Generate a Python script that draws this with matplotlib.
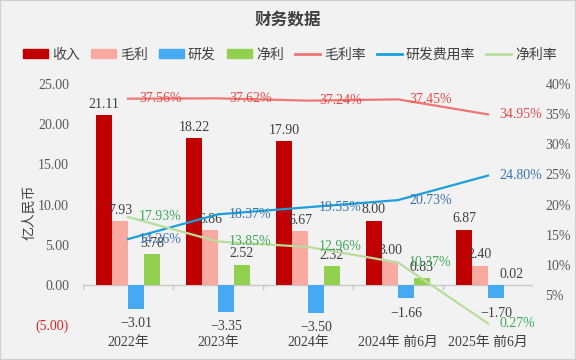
import matplotlib.pyplot as plt
import numpy as np
from matplotlib.patches import Rectangle
from matplotlib.lines import Line2D
from matplotlib.patches import Patch

plt.rcParams['font.family'] = ['Liberation Serif', 'Noto Sans CJK SC']

categories = ['2022年', '2023年', '2024年', '2024年 前6月', '2025年 前6月']
revenue = [21.11, 18.22, 17.90, 8.00, 6.87]
gross_profit = [7.93, 6.86, 6.67, 3.00, 2.40]
rnd = [-3.01, -3.35, -3.50, -1.66, -1.70]
net_profit = [3.78, 2.52, 2.32, 0.83, 0.02]
gross_margin = [37.56, 37.62, 37.24, 37.45, 34.95]
rnd_rate = [14.26, 18.37, 19.55, 20.73, 24.80]
net_margin = [17.93, 13.85, 12.96, 10.37, 0.27]

bg = '#f2f2f2'
c_rev, c_gp, c_rnd, c_np = '#c00000', '#f8a9a0', '#45aaf2', '#92d050'
c_gm, c_rr, c_nm = '#f07575', '#1aa0dc', '#b8dd9c'

fig = plt.figure(figsize=(5.76, 3.6), dpi=100, facecolor=bg)
ax = fig.add_axes([83/576, 1-325/360, 450/576, 241/360])
ax.set_facecolor(bg)
ax2 = ax.twinx()

x = np.arange(len(categories))
w = 16/90
series = [(revenue, c_rev), (gross_profit, c_gp), (rnd, c_rnd), (net_profit, c_np)]
for i, (vals, col) in enumerate(series):
    pos = x + (i - 1.5) * w
    ax.bar(pos, vals, width=w, color=col, zorder=2)
    for p, v in zip(pos, vals):
        if v >= 0:
            ax.annotate(f'{v:.2f}', (p, v), xytext=(0, 3), textcoords='offset points',
                        ha='center', va='bottom', fontsize=10, color='#404040', zorder=5)
        else:
            ax.annotate(f'\u2212{abs(v):.2f}', (p, v), xytext=(0, -6), textcoords='offset points',
                        ha='center', va='top', fontsize=10, color='#404040', zorder=5)

ax.set_xlim(-0.5, 4.5)
ax.set_ylim(-5, 25)
ax.set_yticks([-5, 0, 5, 10, 15, 20, 25])
ax.set_yticklabels(['(5.00)', '0.00', '5.00', '10.00', '15.00', '20.00', '25.00'])
ax.get_yticklabels()[0].set_color('#e02020')
ax.tick_params(axis='y', length=0, pad=10, labelsize=10, labelcolor='#595959')
ax.get_yticklabels()[0].set_color('#e02020')
ax.set_xticks(x)
ax.set_xticklabels(categories)
ax.tick_params(axis='x', length=0, pad=8, labelsize=10, labelcolor='#404040')
for s in ax.spines.values():
    s.set_visible(False)
ax.axhline(0, color='#c8c8c8', lw=1, zorder=1)
for b in np.arange(-0.5, 5, 1):
    ax.plot([b, b], [0, -0.55], color='#c8c8c8', lw=1, zorder=1)

lines = [(gross_margin, c_gm, '#e84848'), (rnd_rate, c_rr, '#3a74b0'), (net_margin, c_nm, '#3fa85a')]
for vals, col, tcol in lines:
    ax2.plot(x, np.array(vals)/100, color=col, lw=1.6, zorder=3)
    for xi, v in zip(x, vals):
        ax2.annotate(f'{v:.2f}%', (xi, v/100), xytext=(8, 0), textcoords='offset points',
                     ha='left', va='center', fontsize=10, color=tcol, zorder=6)
ax2.set_ylim(0, 0.40)
ax2.set_yticks(np.arange(0.05, 0.41, 0.05))
ax2.set_yticklabels([f'{int(round(t*100))}%' for t in np.arange(0.05, 0.41, 0.05)])
ax2.tick_params(axis='y', length=0, pad=9, labelsize=10, labelcolor='#595959')
for s in ax2.spines.values():
    s.set_visible(False)

fig.text(0.5, 1-20/360, '财务数据', ha='center', va='center', fontsize=12,
         fontweight='bold', color='#404040')
fig.text(30/576, 1-212/360, '亿人民币', rotation=90, ha='center', va='center',
         fontsize=10, color='#404040')

handles = [Patch(color=c_rev), Patch(color=c_gp), Patch(color=c_rnd), Patch(color=c_np),
           Line2D([], [], color=c_gm, lw=2), Line2D([], [], color=c_rr, lw=2),
           Line2D([], [], color=c_nm, lw=2)]
labels = ['收入', '毛利', '研发', '净利', '毛利率', '研发费用率', '净利率']
fig.legend(handles, labels, loc='center', bbox_to_anchor=(290/576, 1-55/360), ncol=7,
           frameon=False, fontsize=10, handlelength=1.8, handleheight=0.6,
           columnspacing=0.8, handletextpad=0.3, labelcolor='#404040')

fig.patches.append(Rectangle((0, 0), 1, 1, transform=fig.transFigure, fill=False,
                             edgecolor='#d0d0d0', lw=1.5))

fig.savefig('out.png', dpi=100, facecolor=bg)
